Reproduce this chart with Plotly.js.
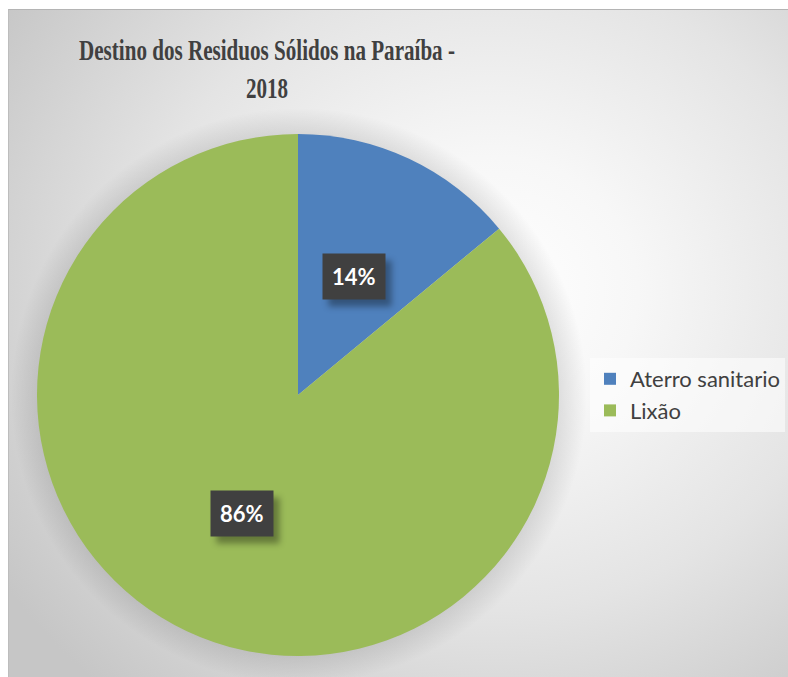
<!DOCTYPE html>
<html>
<head>
<meta charset="utf-8">
<script src="https://cdn.plot.ly/plotly-3.0.1.min.js"></script>
<style>
  html, body { margin: 0; padding: 0; background: #ffffff; }
  #wrap { position: relative; width: 788px; height: 677px; overflow: hidden; background: #ffffff; }
  #bg {
    position: absolute; left: 8px; top: 9px; right: 0; bottom: 0;
    border-top: 1px solid #b4b4b4; border-left: 1px solid #bdbdbd;
    background:
      radial-gradient(circle at 290px 386px, rgba(0,0,0,0.11) 258px, rgba(0,0,0,0.06) 272px, rgba(0,0,0,0) 288px),
      radial-gradient(ellipse 75% 80% at 62% 42%, #ffffff 0%, #f7f7f7 25%, #e4e4e4 60%, #c6c6c6 100%);
  }
  #chart { position: absolute; left: 0; top: 0; width: 788px; height: 677px; }
</style>
</head>
<body>
<div id="wrap">
  <div id="bg"></div>
  <div id="chart"></div>
</div>
<script>
// ---- data ----
const categories = ["Aterro sanitario", "Lixão"];
const values = [14, 86];
const colors = ["#4f81bd", "#9bbb59"];
const titleLines = ["Destino dos Residuos Sólidos na Paraíba -", "2018"];

// ---- geometry of the pie (paper layout) ----
const W = 788, H = 677;
const cx = 298, cy = 395, R = 261;
const domX = [(cx - R) / W, (cx + R) / W];
const domY = [1 - (cy + R) / H, 1 - (cy - R) / H];

const total = values.reduce((a, b) => a + b, 0);
const annotations = [];
let cum = 0;
values.forEach((v, i) => {
  const mid = (cum + v / 2) / total * 2 * Math.PI; // clockwise from 12 o'clock
  cum += v;
  const f = 0.5;
  const px = cx + f * R * Math.sin(mid);
  const py = cy - f * R * Math.cos(mid);
  const label = Math.round(v / total * 100) + "%";
  annotations.push({
    xref: "paper", yref: "paper", x: px / W, y: 1 - py / H,
    xanchor: "center", yanchor: "middle", showarrow: false,
    text: label, font: { family: "Lato, 'Open Sans', sans-serif", size: 22, color: "#ffffff", weight: 700 },
    bgcolor: "#404040", borderpad: 9
  });
});

const trace = {
  type: "pie",
  labels: categories,
  values: values,
  marker: { colors: colors, line: { width: 0 } },
  sort: false,
  direction: "clockwise",
  rotation: 0,
  textinfo: "none",
  hoverinfo: "skip",
  domain: { x: domX, y: domY }
};

const layout = {
  width: W, height: H,
  margin: { l: 0, r: 0, t: 0, b: 0 },
  paper_bgcolor: "rgba(0,0,0,0)",
  plot_bgcolor: "rgba(0,0,0,0)",
  showlegend: true,
  title: {
    text: titleLines.join("<br>"),
    font: { family: "'Liberation Serif', 'Times New Roman', serif", size: 29, color: "#404040", weight: 700 },
    x: 267 / W, xanchor: "center", xref: "paper",
    y: 1 - 60 / H, yanchor: "top", yref: "container"
  },
  legend: {
    x: 590 / W, xanchor: "left",
    y: 1 - 395 / H, yanchor: "middle",
    bgcolor: "rgba(255,255,255,0.55)",
    font: { family: "Lato, 'Open Sans', sans-serif", size: 22, color: "#404040" },
    itemwidth: 30,
    traceorder: "normal"
  },
  annotations: annotations
};

Plotly.newPlot("chart", [trace], layout, { staticPlot: true, displayModeBar: false }).then(() => {
  // condense title horizontally to mimic the narrow serif of the original
  const t = document.querySelector(".gtitle");
  if (t) {
    const bb = t.getBBox();
    const target = 376;
    const s = target / bb.width;
    const c = bb.x + bb.width / 2;
    t.setAttribute("transform", `translate(${c},0) scale(${s},1) translate(${-c},0)`);
  }
  // soft drop shadow behind the data-label boxes
  document.querySelectorAll(".annotation rect.bg").forEach(r => {
    r.style.filter = "drop-shadow(6px 7px 3px rgba(0,0,0,0.35))";
  });
});
</script>
</body>
</html>
